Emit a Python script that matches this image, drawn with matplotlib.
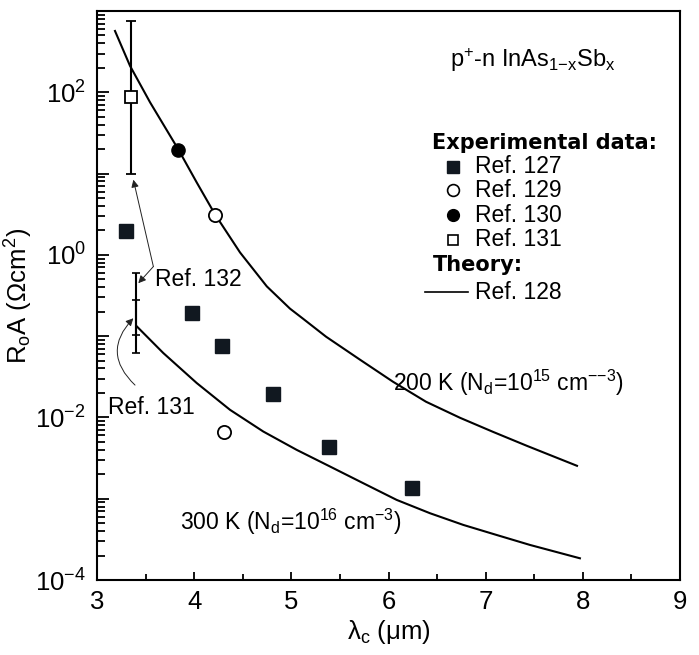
import numpy as np
import matplotlib
matplotlib.use('Agg')
import matplotlib.pyplot as plt
from matplotlib.ticker import LogLocator, FuncFormatter, MultipleLocator, NullFormatter

plt.rcParams['font.family'] = ['Liberation Sans', 'DejaVu Sans']
plt.rcParams['mathtext.fontset'] = 'custom'
plt.rcParams['mathtext.rm'] = 'Liberation Sans'
plt.rcParams['mathtext.it'] = 'Liberation Sans'
plt.rcParams['mathtext.default'] = 'regular'

# Theory (Ref. 128) curves
lam_200K = [3.185, 3.340, 3.546, 3.837, 4.026, 4.215, 4.472, 4.747, 4.986, 5.120,
            5.357, 5.707, 6.046, 6.386, 6.736, 7.075, 7.425, 7.940]
ra_200K = [568, 211, 75.2, 19.8, 7.78, 3.14, 1.07, 0.410, 0.218, 0.164,
           0.0985, 0.0513, 0.0275, 0.0156, 0.0099, 0.00665, 0.00447, 0.00254]
lam_300K = [3.409, 3.682, 4.026, 4.369, 4.711, 5.055, 5.398, 5.741, 6.084, 6.427,
            6.770, 7.113, 7.456, 7.970]
ra_300K = [0.132, 0.0620, 0.0265, 0.0124, 0.00671, 0.00399, 0.00249, 0.00155,
           0.000967, 0.000663, 0.000476, 0.000358, 0.000270, 0.000185]

# Experimental data
ref127_x = [3.298, 3.981, 4.286, 4.808, 5.391, 6.239]
ref127_y = [1.99, 0.191, 0.075, 0.0194, 0.00435, 0.00136]
ref129_x = [4.214, 4.310]
ref129_y = [3.11, 0.00665]
ref130_x = [3.837]
ref130_y = [19.7]
ref131_x = [3.347]
ref131_y = [87.7]
ref131_lo = [9.9]
ref131_hi = [748]
# Ref. 132: two overlapping ranges, no central point
ref132_x = [3.401, 3.401]
ref132_lo = [0.103, 0.0615]
ref132_hi = [0.595, 0.279]

fig = plt.figure(figsize=(6.99, 6.55), dpi=100)
ax = fig.add_axes([0.1388, 0.1145, 0.834, 0.8687])

ax.plot(lam_200K, ra_200K, color='k', lw=1.5)
ax.plot(lam_300K, ra_300K, color='k', lw=1.5)

ax.plot(ref127_x, ref127_y, 's', color='#111820', ms=10, ls='none')
ax.plot(ref129_x, ref129_y, 'o', mfc='white', mec='k', mew=1.3, ms=9.5, ls='none')
ax.plot(ref130_x, ref130_y, 'o', color='k', ms=9.5, ls='none')

y131 = np.array(ref131_y)
ax.errorbar(ref131_x, ref131_y,
            yerr=[y131 - np.array(ref131_lo), np.array(ref131_hi) - y131],
            fmt='s', mfc='white', mec='k', mew=1.3, ms=8.5, ecolor='k',
            elinewidth=1.5, capsize=3.5, capthick=1.3)
hi132 = np.array(ref132_hi)
ax.errorbar(ref132_x, ref132_hi, yerr=[hi132 - np.array(ref132_lo), np.zeros(2)],
            fmt='none', ecolor='k', elinewidth=1.5, capsize=3, capthick=1.2)

ax.set_yscale('log')
ax.set_xlim(3, 9)
ax.set_ylim(1e-4, 1e3)

ax.xaxis.set_major_locator(MultipleLocator(1))
ax.xaxis.set_minor_locator(MultipleLocator(0.5))
ax.yaxis.set_major_locator(LogLocator(base=10, numticks=20))
ax.yaxis.set_minor_locator(LogLocator(base=10, subs=np.arange(2, 10), numticks=20))
ax.yaxis.set_minor_formatter(NullFormatter())


def ylab(v, pos):
    e = int(round(np.log10(v)))
    return r'$10^{%d}$' % e if e % 2 == 0 else ''


ax.yaxis.set_major_formatter(FuncFormatter(ylab))

ax.tick_params(axis='both', which='both', direction='in', top=False, right=False,
               width=1.3, labelsize=18.5)
ax.tick_params(axis='x', which='major', length=6, pad=7)
ax.tick_params(axis='x', which='minor', length=4.5)
ax.tick_params(axis='y', which='major', length=8.5, pad=8)
ax.tick_params(axis='y', which='minor', length=5.5)
for s in ax.spines.values():
    s.set_linewidth(1.5)

ax.set_xlabel(r'$\lambda_c$ ($\mu$m)', fontsize=18.5, labelpad=3)
ax.set_ylabel(r'R$_o$A ($\Omega$cm$^2$)', fontsize=18.5, labelpad=0)

# annotations
fs = 16.5
ax.text(3.597, 0.492, 'Ref. 132', fontsize=fs, va='center', ha='left')
ax.text(3.113, 0.0134, 'Ref. 131', fontsize=fs, va='center', ha='left')
arw = dict(arrowstyle='-|>', color='#222222', lw=0.7, mutation_scale=11,
           shrinkA=0, shrinkB=0)
ax.annotate('', xy=(3.374, 8.4), xytext=(3.580, 0.718), arrowprops=arw)
ax.annotate('', xy=(3.425, 0.448), xytext=(3.580, 0.718), arrowprops=arw)
ax.annotate('', xy=(3.374, 0.166), xytext=(3.391, 0.025),
            arrowprops=dict(arw, connectionstyle='arc3,rad=-0.5'))

ax.text(6.046, 0.0265, r'200 K (N$_d$=10$^{15}$ cm$^{{-}{-}3}$)', fontsize=fs,
        va='center', ha='left')
ax.text(3.854, 0.000513, r'300 K (N$_d$=10$^{16}$ cm$^{{-}3}$)', fontsize=fs,
        va='center', ha='left')

ax.text(0.605, 0.914, r'p$^{+}$-n InAs$_{1{-}x}$Sb$_{x}$', transform=ax.transAxes,
        fontsize=17, va='center', ha='left')

# legend drawn by hand to match the layout
tr = ax.transAxes
ax.text(0.575, 0.768, 'Experimental data:', transform=tr, fontsize=15,
        family='DejaVu Sans', fontweight='bold', va='center', ha='left')
leg_rows = [0.726, 0.685, 0.641, 0.598]
leg_labels = ['Ref. 127', 'Ref. 129', 'Ref. 130', 'Ref. 131']
leg_styles = [dict(marker='s', color='#111820', ms=8.5),
              dict(marker='o', mfc='white', mec='k', mew=1.2, ms=8.5),
              dict(marker='o', color='k', ms=8.5),
              dict(marker='s', mfc='white', mec='k', mew=1.2, ms=7)]
for yy, lab, st in zip(leg_rows, leg_labels, leg_styles):
    ax.plot([0.611], [yy], transform=tr, ls='none', clip_on=False, **st)
    ax.text(0.648, yy, lab, transform=tr, fontsize=fs, va='center', ha='left')
ax.text(0.576, 0.554, 'Theory:', transform=tr, fontsize=15, family='DejaVu Sans',
        fontweight='bold', va='center', ha='left')
ax.plot([0.563, 0.636], [0.506, 0.506], transform=tr, color='k', lw=1.2)
ax.text(0.648, 0.506, 'Ref. 128', transform=tr, fontsize=fs, va='center', ha='left')

fig.savefig('out.png', dpi=100)
